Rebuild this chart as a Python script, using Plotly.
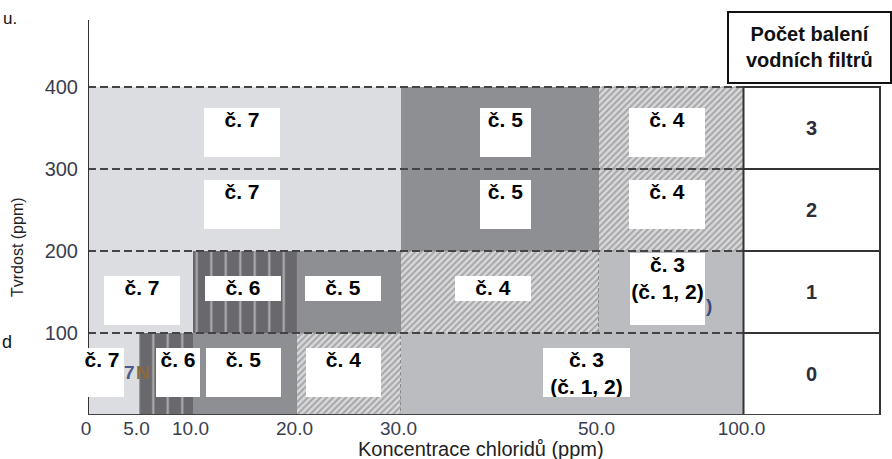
import numpy as np
import plotly.graph_objects as go

# ---------------- data ----------------
chloride_ticks = [0, 5, 10, 20, 30, 50, 100]
chloride_tick_labels = ["0", "5.0", "10.0", "20.0", "30.0", "50.0", "100.0"]
hardness_ticks = [100, 200, 300, 400]

# hardness bands (ppm)
band_low = [0, 100, 200, 300]
band_high = [100, 200, 300, 400]
filter_packs = ["0", "1", "2", "3"]

# segments per band: chloride from, chloride to, filter label
seg_from = [[0, 5, 10, 20, 30], [0, 10, 20, 30, 50], [0, 30, 50], [0, 30, 50]]
seg_to = [[5, 10, 20, 30, 100], [10, 20, 30, 50, 100], [30, 50, 100], [30, 50, 100]]
seg_filter = [
    ["č. 7", "č. 6", "č. 5", "č. 4", "č. 3<br>(č. 1, 2)"],
    ["č. 7", "č. 6", "č. 5", "č. 4", "č. 3<br>(č. 1, 2)"],
    ["č. 7", "č. 5", "č. 4"],
    ["č. 7", "č. 5", "č. 4"],
]
header_text = "Počet balení<br>vodních filtrů"
x_title = "Koncentrace chloridů (ppm)"
y_title = "Tvrdost (ppm)"

# ---------------- scale (non-linear chloride axis) ----------------
axis_breaks = [0, 50.5, 104.5, 208.5, 312.5, 510.5, 655.5]


def xpos(ppm):
    return float(np.interp(ppm, chloride_ticks, axis_breaks))


W, H = 892, 459
ML, MB = 88, 44
PX_PER_Y = 0.82
plot_h = H - MB
plot_w = W - ML
y_max = plot_h / PX_PER_Y


def px_x(px):
    return px - ML


def px_y(py):
    return (plot_h - py) / PX_PER_Y


def paper_x(px):
    return (px - ML) / plot_w


def paper_y(py):
    return (plot_h - py) / plot_h


# ---------------- styles ----------------
FONT = "Liberation Sans, Arial, sans-serif"
styles = {
    "7": dict(color="#dcdde0"),
    "6": dict(color="#69696d", pattern=dict(shape="|", fgcolor="#f6f6f6", size=14.5,
                                             solidity=0.14, fillmode="overlay")),
    "5": dict(color="#8e8f93"),
    "4": dict(color="#d8d8da", pattern=dict(shape="/", fgcolor="#727276", size=4.5,
                                             solidity=0.45, fillmode="overlay")),
    "3": dict(color="#bbbcc0"),
}
# label boxes: (width px, height px, dx px, top offset px)
box_style = [
    [(44, 49, -11, 15), (44, 49, 12, 15), (75, 49, -1.5, 15), (75, 49, -5.5, 15), (87, 49, 14, 15)],
    [(76, 49, 2, 25), (76, 25, -2, 25), (76, 25, -6, 25), (76, 25, -7, 25), (75, 72, -4, 2)],
    [(76, 49, -2, 11), (51, 49, 5.5, 11), (76, 49, -4.5, 11)],
    [(76, 49, -2, 21), (51, 49, 5.5, 21), (76, 49, -4.5, 21)],
]

fig = go.Figure()
for b in range(len(band_low)):
    for s in range(len(seg_from[b])):
        x0, x1 = xpos(seg_from[b][s]), xpos(seg_to[b][s])
        key = seg_filter[b][s].split("<br>")[0].split(". ")[1]
        st = styles[key]
        marker = dict(color=st["color"], line=dict(width=0))
        if "pattern" in st:
            marker["pattern"] = st["pattern"]
        fig.add_trace(go.Bar(
            x=[(x0 + x1) / 2], y=[band_high[b] - band_low[b]], base=[band_low[b]],
            width=[x1 - x0], marker=marker, showlegend=False, hoverinfo="skip"))

shapes = []
annotations = []

# dotted outline around hatched (č. 4) regions
for b in range(len(band_low)):
    for s in range(len(seg_from[b])):
        if seg_filter[b][s] == "č. 4":
            shapes.append(dict(type="rect", xref="x", yref="y",
                               x0=xpos(seg_from[b][s]), x1=xpos(seg_to[b][s]),
                               y0=band_low[b], y1=band_high[b],
                               line=dict(color="#8a8a8a", width=1, dash="dot")))

# faint underlying artefact text (partly hidden by label boxes)
annotations.append(dict(x=px_x(129), y=px_y(372), xref="x", yref="y", text="<b>7</b>",
                        showarrow=False, font=dict(family=FONT, size=19, color="#4a5a8a")))
annotations.append(dict(x=px_x(143), y=px_y(372), xref="x", yref="y", text="<b>N</b>",
                        showarrow=False, font=dict(family=FONT, size=19, color="#8a6a3a")))
annotations.append(dict(x=px_x(709), y=px_y(305), xref="x", yref="y", text="<b>)</b>",
                        showarrow=False, font=dict(family=FONT, size=19, color="#3a4a7a")))

# label boxes
for b in range(len(band_low)):
    for s in range(len(seg_from[b])):
        w, h, dx, off = box_style[b][s]
        xc = (xpos(seg_from[b][s]) + xpos(seg_to[b][s])) / 2
        annotations.append(dict(
            x=xc, y=band_high[b], xref="x", yref="y", xanchor="center", yanchor="top",
            xshift=dx, yshift=-off, width=w, height=h, valign="top", align="center",
            text="<b>" + seg_filter[b][s] + "</b>", showarrow=False, bgcolor="#ffffff",
            borderpad=0, borderwidth=0,
            font=dict(family=FONT, size=21, color="#000000")))

# dashed band lines
for yv in hardness_ticks:
    shapes.append(dict(type="line", xref="x", yref="y", x0=0, x1=xpos(100), y0=yv, y1=yv,
                       line=dict(color="#444444", width=2, dash="8px,4px")))

# table
tx0, tx1 = xpos(100), px_x(880)
shapes.append(dict(type="rect", xref="x", yref="y", x0=tx0, x1=tx1, y0=0, y1=400,
                   line=dict(color="#333333", width=2), fillcolor="#ffffff"))
for yv in hardness_ticks[:-1]:
    shapes.append(dict(type="line", xref="x", yref="y", x0=tx0, x1=tx1, y0=yv, y1=yv,
                       line=dict(color="#333333", width=2)))
for b in range(len(band_low)):
    annotations.append(dict(x=(tx0 + tx1) / 2, y=(band_low[b] + band_high[b]) / 2,
                            xref="x", yref="y", text="<b>" + filter_packs[b] + "</b>",
                            showarrow=False,
                            font=dict(family=FONT, size=20, color="#2e2e3a")))

# header box
shapes.append(dict(type="rect", xref="x", yref="y", x0=px_x(728), x1=px_x(891),
                   y0=px_y(83), y1=px_y(12), line=dict(color="#111111", width=2),
                   fillcolor="#ffffff"))
annotations.append(dict(x=(px_x(728) + px_x(891)) / 2, y=px_y(47), xref="x", yref="y",
                        text="<b>" + header_text + "</b>", showarrow=False,
                        font=dict(family=FONT, size=20, color="#111111")))

# axes lines
shapes.append(dict(type="line", xref="x", yref="y", x0=0, x1=0, y0=0, y1=px_y(20),
                   line=dict(color="#333333", width=2)))
shapes.append(dict(type="line", xref="x", yref="y", x0=0, x1=tx1, y0=0, y1=0,
                   line=dict(color="#444444", width=2)))

# titles (paper coordinates so they are drawn outside the plot area)
annotations.append(dict(x=paper_x(481), y=paper_y(449), xref="paper", yref="paper",
                        xanchor="center", yanchor="middle",
                        text=x_title, showarrow=False,
                        font=dict(family=FONT, size=20, color="#222222")))
annotations.append(dict(x=paper_x(18), y=paper_y(247), xref="paper", yref="paper",
                        xanchor="center", yanchor="middle",
                        text=y_title, textangle=-90, showarrow=False,
                        font=dict(family=FONT, size=16, color="#222222")))
# page text at the left margin
annotations.append(dict(x=paper_x(1), y=paper_y(18), xref="paper", yref="paper", text="u.",
                        xanchor="left", yanchor="middle", showarrow=False,
                        font=dict(family=FONT, size=17, color="#111111")))
annotations.append(dict(x=paper_x(0), y=paper_y(342), xref="paper", yref="paper", text="d",
                        xanchor="left", yanchor="middle", showarrow=False,
                        font=dict(family=FONT, size=18, color="#111111")))

fig.update_layout(
    width=W, height=H, autosize=False,
    margin=dict(l=ML, r=0, t=0, b=MB, pad=0),
    paper_bgcolor="#ffffff", plot_bgcolor="#ffffff",
    barmode="overlay", bargap=0,
    shapes=shapes, annotations=annotations,
    xaxis=dict(range=[0, plot_w], tickvals=[xpos(v) for v in chloride_ticks],
               ticktext=chloride_tick_labels, showgrid=False, zeroline=False,
               showline=False, ticks="", ticklabelstandoff=0, ticklabelshift=-2,
               tickfont=dict(family=FONT, size=19, color="#3a3d4f"), fixedrange=True),
    yaxis=dict(range=[0, y_max], tickvals=hardness_ticks,
               ticktext=[str(v) for v in hardness_ticks], showgrid=False, zeroline=False,
               showline=False, ticks="", ticklabelstandoff=9,
               tickfont=dict(family=FONT, size=20, color="#3a3d4f"), fixedrange=True),
    showlegend=False,
)

fig.write_html("out.html", config={"displayModeBar": False, "staticPlot": True},
               post_script="document.body.style.margin='0px';document.body.style.overflow='hidden';")
